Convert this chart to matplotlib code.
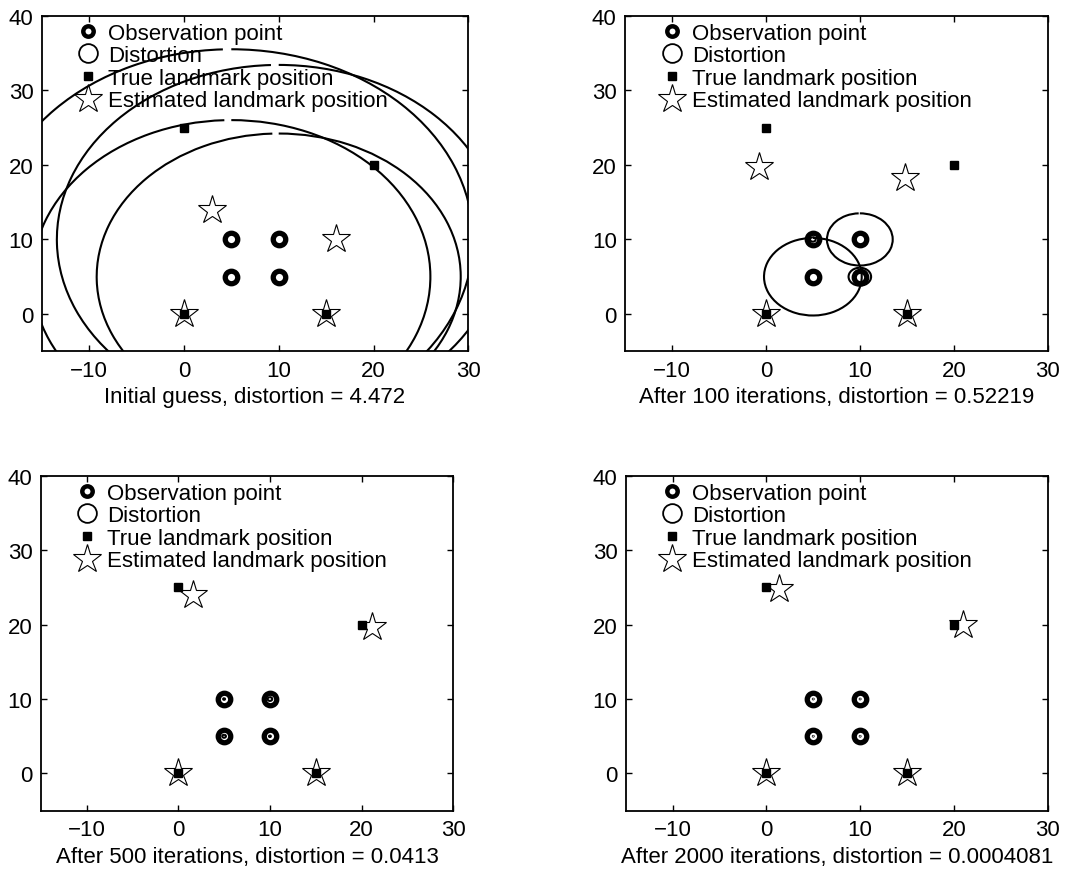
import numpy as np
import matplotlib
matplotlib.use("Agg")
import matplotlib.pyplot as plt
from matplotlib.patches import Arc
from matplotlib.lines import Line2D

plt.rcParams['font.family'] = ['Liberation Sans', 'DejaVu Sans']
plt.rcParams['axes.unicode_minus'] = True

# ---------------- data ----------------
obs_x = [5, 5, 10, 10]
obs_y = [5, 10, 5, 10]
true_x = [0, 15, 0, 20]
true_y = [0, 0, 25, 20]

est_x_init = [0, 15, 3, 16]
est_y_init = [0, 0, 14, 10]
dist_r_init = [21.0, 25.5, 19.2, 23.4]

est_x_100 = [0, 15, -0.7, 14.85]
est_y_100 = [0, 0, 19.75, 18.2]
dist_r_100 = [5.2, 0.3, 1.2, 3.5]

est_x_500 = [0, 15, 1.65, 21.1]
est_y_500 = [0, 0, 24.0, 19.65]
dist_r_500 = [0.2, 0.1, 0.1, 0.25]

est_x_2000 = [0, 15, 1.3, 21.0]
est_y_2000 = [0, 0, 24.8, 19.9]
dist_r_2000 = [0.04, 0.04, 0.04, 0.04]

panel_titles = ["Initial guess, distortion = 4.472",
                "After 100 iterations, distortion = 0.52219",
                "After 500 iterations, distortion = 0.0413",
                "After 2000 iterations, distortion = 0.0004081"]
x_ticks = [-10, 0, 10, 20, 30]
y_ticks = [0, 10, 20, 30, 40]
legend_labels = ["Observation point", "Distortion",
                 "True landmark position", "Estimated landmark position"]

panels = [(est_x_init, est_y_init, dist_r_init),
          (est_x_100, est_y_100, dist_r_100),
          (est_x_500, est_y_500, dist_r_500),
          (est_x_2000, est_y_2000, dist_r_2000)]

# ---------------- layout ----------------
W, H = 1067, 870
fig = plt.figure(figsize=(W / 100, H / 100), dpi=100)
boxes = [(41.7, 16.7, 426.6, 335.6),
         (625.0, 16.7, 422.7, 335.6),
         (40.7, 476.7, 412.6, 335.0),
         (625.7, 476.7, 422.0, 335.0)]

FS = 16
OBS_KW = dict(linestyle='none', marker='o', markersize=9.0, markeredgewidth=3.8,
              markerfacecolor='none', markeredgecolor='black')
TRUE_KW = dict(linestyle='none', marker='s', markersize=5.2,
               markerfacecolor='black', markeredgecolor='black')
EST_KW = dict(linestyle='none', marker='*', markersize=21.5, markeredgewidth=0.8,
              markerfacecolor='none', markeredgecolor='black')

for i, ((ex, ey, rr), (l, t, w, h)) in enumerate(zip(panels, boxes)):
    ax = fig.add_axes([l / W, 1 - (t + h) / H, w / W, h / H])
    ax.set_xlim(-15, 30)
    ax.set_ylim(-5, 40)

    for cx, cy, r in zip(obs_x, obs_y, rr):
        ax.add_patch(Arc((cx, cy), 2 * r, 2 * r, theta1=92, theta2=450,
                         color='black', lw=1.5, zorder=2))
    ax.plot(obs_x, obs_y, zorder=3, **OBS_KW)
    ax.plot(true_x, true_y, zorder=4, **TRUE_KW)
    ax.plot(ex, ey, zorder=5, **EST_KW)

    ax.set_xticks(x_ticks)
    ax.set_yticks(y_ticks)
    ax.tick_params(direction='in', length=4, width=1, top=True, right=True,
                   labelsize=FS, pad=6, colors='black')
    for s in ax.spines.values():
        s.set_linewidth(1.3)
    ax.set_xlabel(panel_titles[i], fontsize=FS, labelpad=4)

    handles = [Line2D([], [], linestyle='none', marker='o', markersize=7.5,
                      markeredgewidth=3.2, markerfacecolor='none', markeredgecolor='black'),
               Line2D([], [], linestyle='none', marker='o', markersize=13.5,
                      markeredgewidth=1.3, markerfacecolor='none', markeredgecolor='black'),
               Line2D([], [], **TRUE_KW),
               Line2D([], [], **EST_KW)]
    ax.legend(handles, legend_labels, loc='upper left',
              bbox_to_anchor=(32.2 / w, 1 - 7.0 / h), frameon=False,
              borderaxespad=0, borderpad=0, handlelength=1.3,
              handletextpad=0.25, labelspacing=0.07, fontsize=FS)

fig.savefig("out.png", dpi=100)
